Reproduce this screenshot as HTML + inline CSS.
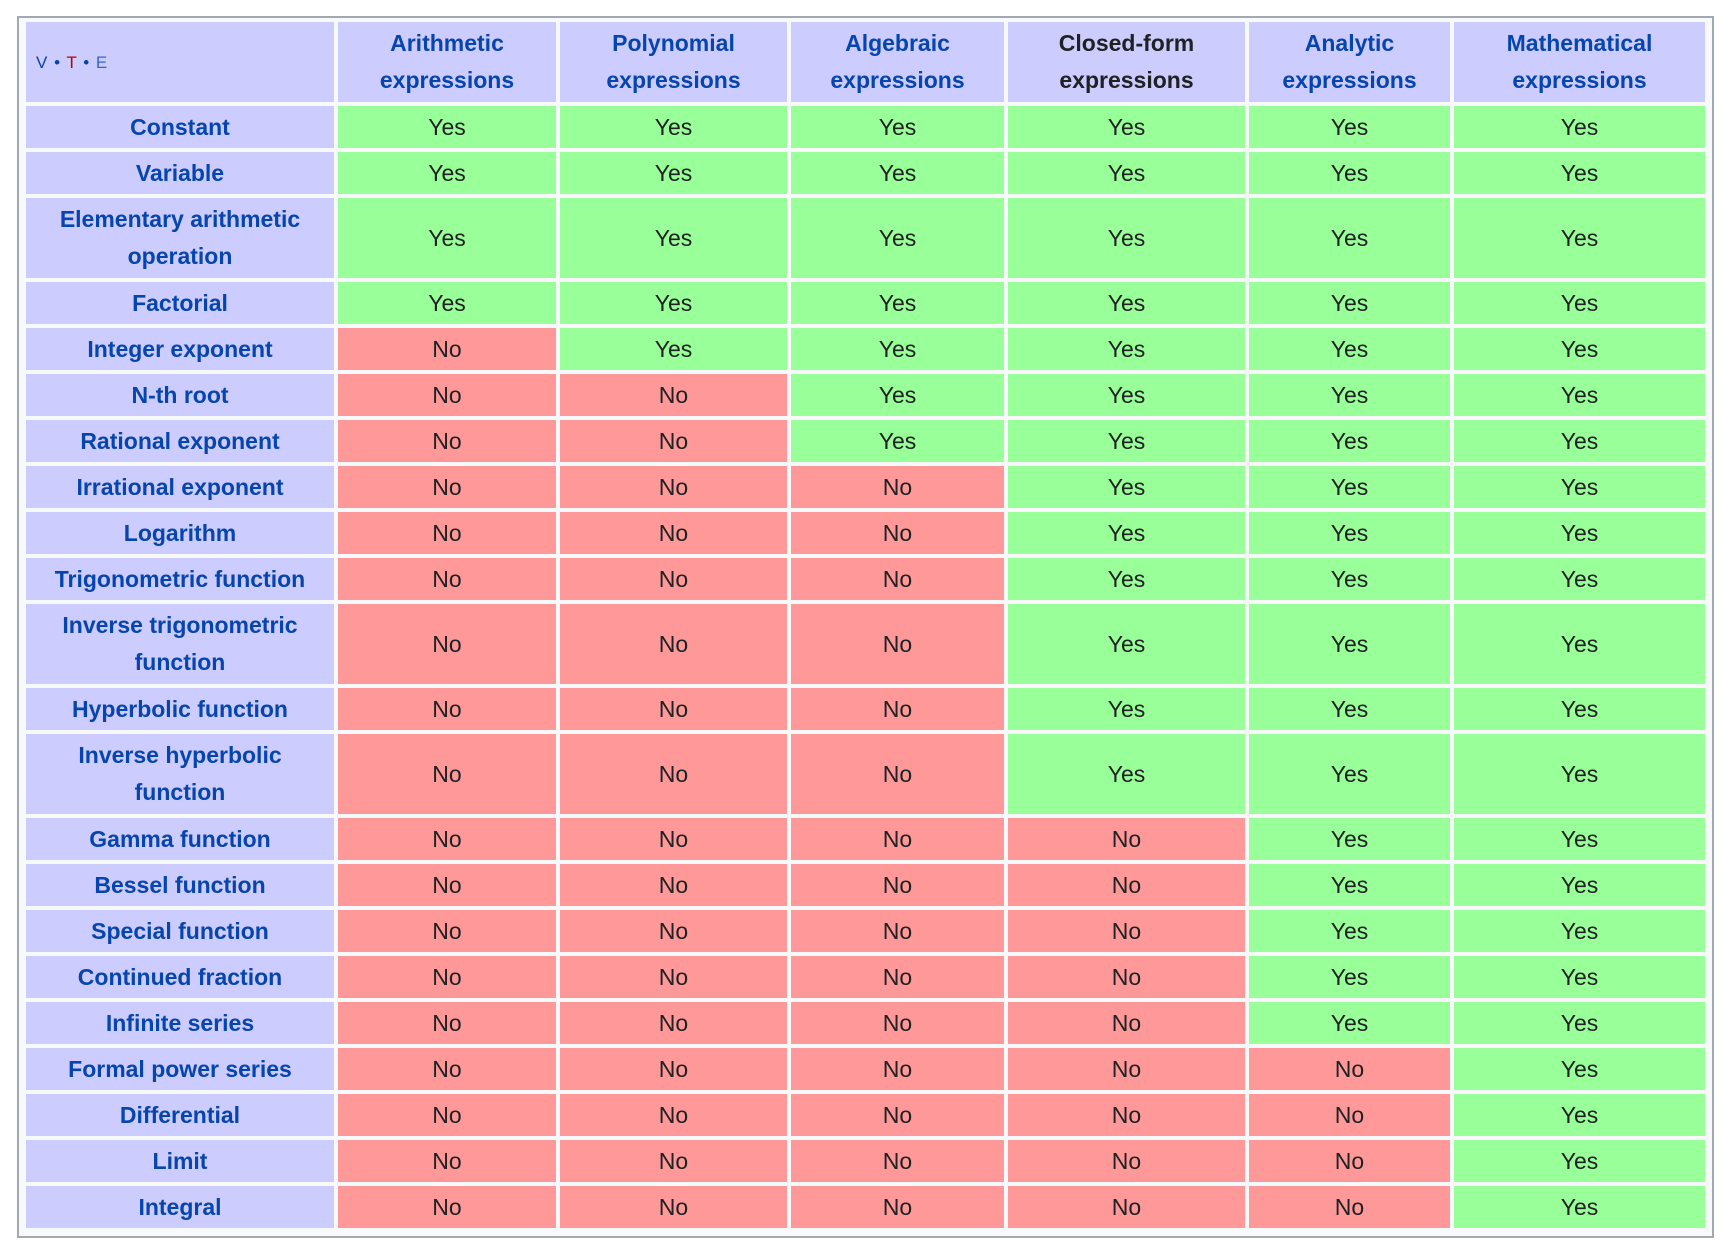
<!DOCTYPE html>
<html><head><meta charset="utf-8">
<style>
html,body{margin:0;padding:0;background:#fff;width:1728px;height:1250px;overflow:hidden}
#frame{position:absolute;left:17px;top:16px;width:1693px;height:1218px;border:2px solid #a2a9b1;background:#f8f9fa}
table{position:absolute;left:3px;top:0px;width:1687px;border-collapse:separate;border-spacing:4px;margin:0;table-layout:fixed;font-family:"Liberation Sans",Arial,sans-serif;font-size:23px}
td,th{box-sizing:border-box;padding:0 4px;text-align:center;vertical-align:middle;line-height:37px;color:#202122;font-weight:normal;overflow:hidden}
th{background:#ccccff;color:#0645ad;font-weight:bold}
th.black{color:#202122}
td.yes{background:#99ff99}
td.no{background:#ff9999}
.vte{text-align:left;padding-left:10px;font-weight:normal;font-size:17px;letter-spacing:1px}
.vte .t{color:#ba0000}.vte .e{color:#3366cc}
</style></head><body>
<div id="frame">
<table id="tbl"></table>
</div>
<script>
const columns=["Arithmetic expressions","Polynomial expressions","Algebraic expressions","Closed-form expressions","Analytic expressions","Mathematical expressions"];
const rowLabels=["Constant","Variable","Elementary arithmetic<br>operation","Factorial","Integer exponent","N-th root","Rational exponent","Irrational exponent","Logarithm","Trigonometric function","Inverse trigonometric<br>function","Hyperbolic function","Inverse hyperbolic<br>function","Gamma function","Bessel function","Special function","Continued fraction","Infinite series","Formal power series","Differential","Limit","Integral"];
const firstYes=[0,0,0,0,1,2,2,3,3,3,3,3,3,4,4,4,4,4,5,5,5,5];
const colW=[308,218,227,213,237,201,251];
const tbl=document.getElementById('tbl');
const cg=document.createElement('colgroup');
colW.forEach(w=>{const c=document.createElement('col');c.style.width=w+'px';cg.appendChild(c);});
tbl.appendChild(cg);
let tr=document.createElement('tr');
tr.style.height='80px';
let th=document.createElement('th');
th.className='vte';
th.innerHTML='<span>V</span> • <span class="t">T</span> • <span class="e">E</span>';


tr.appendChild(th);
columns.forEach((c,i)=>{
  const h=document.createElement('th');
  if(i===3)h.className='black';
  h.innerHTML=c.replace(' ','<br>');
  
  
  tr.appendChild(h);
});
tbl.appendChild(tr);
rowLabels.forEach((lab,r)=>{
  const row=document.createElement('tr');
  row.style.height=(lab.includes('<br>')?80:42)+'px';
  
  
  const h=document.createElement('th');
  h.innerHTML=lab;
  
  
  row.appendChild(h);
  columns.forEach((c,i)=>{
    const d=document.createElement('td');
    const y=i>=firstYes[r];
    d.className=y?'yes':'no';
    d.textContent=y?'Yes':'No';
    
    
    row.appendChild(d);
  });
  tbl.appendChild(row);
});
</script>
</body></html>
